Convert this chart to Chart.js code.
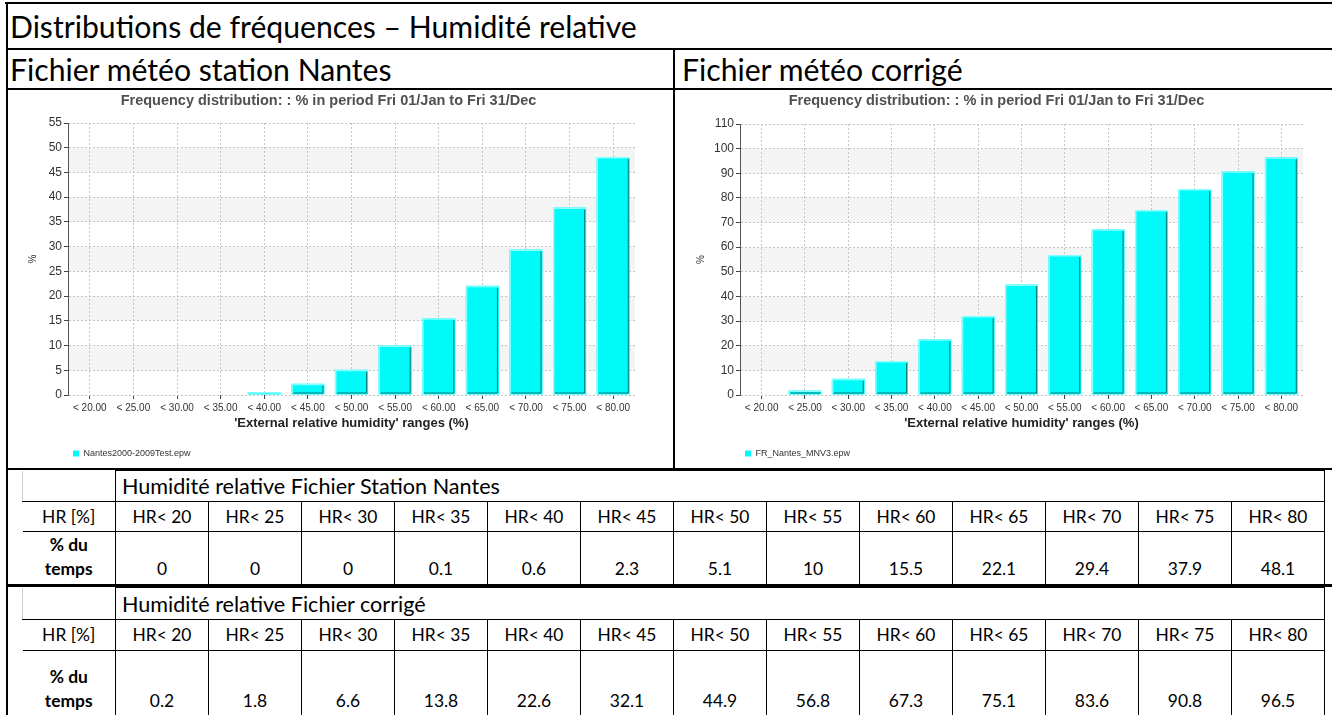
<!DOCTYPE html>
<html>
<head>
<meta charset="utf-8">
<script src="https://cdn.jsdelivr.net/npm/chart.js@4.4.1/dist/chart.umd.min.js"></script>
<style>
  html, body { margin: 0; padding: 0; background: #fff; }
  #page { position: relative; width: 1332px; height: 715px; overflow: hidden; font-family: Lato, 'Open Sans', sans-serif; color: #000; }
  .ln { position: absolute; background: #000; }
  .row { position: absolute; display: flex; align-items: center; white-space: nowrap; }
  .chart-box { position: absolute; }
  table.hr { position: absolute; border-collapse: collapse; table-layout: fixed; }
  table.hr td { border: 1px solid #000; padding: 0; text-align: center; white-space: nowrap; overflow: hidden; line-height: 24px; }
  table.hr td.head { text-align: left; padding-left: 6px; }
  table.hr td.first { border-left: none; }
  table.hr td.corner { border-left: 1px solid #d0d0d0; border-top: none; }
  table.hr td.bot { vertical-align: bottom; padding-bottom: 3px; }
  table.hr td b { font-weight: bold; }
</style>
</head>
<body>
<div id="page">
  <div class="ln" style="left:5px;top:2px;width:1327px;height:2px"></div>
  <div class="ln" style="left:6px;top:2px;width:2px;height:713px"></div>
  <div class="ln" style="left:6px;top:48px;width:1326px;height:2px"></div>
  <div class="ln" style="left:6px;top:88px;width:1326px;height:2px"></div>
  <div class="ln" style="left:673px;top:49px;width:2px;height:420px"></div>
  <div class="ln" style="left:6px;top:468px;width:1326px;height:2px"></div>
  <div class="ln" style="left:6px;top:584px;width:1326px;height:3px"></div>

  <div class="row" id="mainTitle" style="left:10px;top:4px;height:44px">
    <span>Distributions de fréquences – Humidité relative</span>
  </div>
  <div class="row sub" style="left:10px;top:50px;height:38px"><span>Fichier météo station Nantes</span></div>
  <div class="row sub" style="left:682px;top:50px;height:38px"><span>Fichier météo corrigé</span></div>

  <div class="chart-box" style="left:8px;top:90px;width:664px;height:378px"><canvas id="chartNantes"></canvas></div>
  <div class="chart-box" style="left:676px;top:90px;width:654px;height:378px"><canvas id="chartCorrige"></canvas></div>

  <table class="hr" id="tableNantes" style="left:22px;top:470px"></table>
  <table class="hr" id="tableCorrige" style="left:22px;top:587px"></table>
</div>

<script>
// ---- data ----
const rangeLabels = ['< 20.00', '< 25.00', '< 30.00', '< 35.00', '< 40.00', '< 45.00', '< 50.00',
  '< 55.00', '< 60.00', '< 65.00', '< 70.00', '< 75.00', '< 80.00'];
const hrLabels = ['HR< 20', 'HR< 25', 'HR< 30', 'HR< 35', 'HR< 40', 'HR< 45', 'HR< 50',
  'HR< 55', 'HR< 60', 'HR< 65', 'HR< 70', 'HR< 75', 'HR< 80'];
const nantesValues = [0, 0, 0, 0.1, 0.6, 2.3, 5.1, 10, 15.5, 22.1, 29.4, 37.9, 48.1];
const corrigeValues = [0.2, 1.8, 6.6, 13.8, 22.6, 32.1, 44.9, 56.8, 67.3, 75.1, 83.6, 90.8, 96.5];
const nantesYMax = 55, nantesYStep = 5;
const corrigeYMax = 110, corrigeYStep = 10;

const chartTitle = 'Frequency distribution: : % in period Fri 01/Jan to Fri 31/Dec';
const xTitle = "'External relative humidity' ranges (%)";
const FONT = "'Liberation Sans', Arial, sans-serif";

// light grey stripes behind every other y interval
const bandPlugin = {
  id: 'bands',
  beforeDraw(chart, args, opts) {
    const { ctx, chartArea: a, scales: { y } } = chart;
    ctx.save();
    ctx.fillStyle = '#f4f4f4';
    for (let v = opts.step; v < opts.max; v += 2 * opts.step) {
      const top = y.getPixelForValue(v + opts.step), bot = y.getPixelForValue(v);
      ctx.fillRect(a.left, top, a.right - a.left, bot - top);
    }
    ctx.restore();
  }
};

// bevelled bar edges (light top/left, dark right/bottom)
const bevelPlugin = {
  id: 'bevel',
  afterDatasetsDraw(chart) {
    const ctx = chart.ctx;
    chart.getDatasetMeta(0).data.forEach(bar => {
      const { x, y, base, width } = bar.getProps(['x', 'y', 'base', 'width'], true);
      if (base - y < 0.3) return;
      const l = x - width / 2, r = x + width / 2;
      ctx.save();
      ctx.lineWidth = 1.5;
      ctx.strokeStyle = '#86ffff';
      ctx.beginPath();
      ctx.moveTo(l + 0.75, base);
      ctx.lineTo(l + 0.75, Math.min(y, base - 1) + 0.75);
      ctx.lineTo(r, Math.min(y, base - 1) + 0.75);
      ctx.stroke();
      if (base - y > 3) {
        ctx.lineWidth = 1;
        ctx.strokeStyle = '#007a7a';
        ctx.beginPath();
        ctx.moveTo(r - 1.5, y + 2);
        ctx.lineTo(r - 1.5, base - 1.5);
        ctx.lineTo(l + 2, base - 1.5);
        ctx.stroke();
      }
      ctx.restore();
    });
  }
};

function makeChart(id, values, legendLabel, yMax, yStep, yWidth, padRight, titleGap) {
  return new Chart(document.getElementById(id), {
    type: 'bar',
    data: {
      labels: rangeLabels,
      datasets: [{
        label: legendLabel,
        data: values,
        backgroundColor: '#00fafa',
        borderWidth: 0,
        categoryPercentage: 1,
        barPercentage: 0.76
      }]
    },
    plugins: [bandPlugin, bevelPlugin],
    options: {
      responsive: true,
      maintainAspectRatio: false,
      animation: false,
      layout: { padding: { left: 14, right: padRight, top: 0, bottom: 0 } },
      plugins: {
        bands: { max: yMax, step: yStep },
        tooltip: { enabled: false },
        title: {
          display: true,
          text: chartTitle,
          color: '#505050',
          font: { family: FONT, size: 14.5, weight: 'bold' },
          padding: { top: 2, bottom: titleGap }
        },
        legend: {
          position: 'bottom',
          align: 'start',
          fullSize: false,
          labels: {
            boxWidth: 6, boxHeight: 6, padding: 5,
            color: '#333', font: { family: FONT, size: 9 }
          }
        }
      },
      scales: {
        x: {
          offset: true,
          grid: {
            offset: false, color: '#c4c4c4',
            tickColor: '#444', tickBorderDash: [], tickLength: 4
          },
          border: { display: false, dash: [2, 2] },
          ticks: { color: '#333', font: { family: FONT, size: 10 }, maxRotation: 0, autoSkip: false, padding: 3 },
          title: {
            display: true, text: xTitle, color: '#222',
            font: { family: FONT, size: 13, weight: 'bold' },
            padding: { top: 0, bottom: 13 }
          },
          afterFit(s) { s.height = 49; }
        },
        y: {
          min: 0, max: yMax,
          ticks: { stepSize: yStep, color: '#333', font: { family: FONT, size: 12 }, padding: 2 },
          grid: {
            color: '#c4c4c4',
            tickColor: '#444', tickBorderDash: [], tickLength: 4
          },
          border: { display: true, color: '#555', width: 1, dash: [2, 2] },
          title: {
            display: true, text: '%', color: '#333',
            font: { family: FONT, size: 10 }, padding: { top: 5, bottom: 0 }
          },
          afterFit(s) { s.width = yWidth; }
        }
      }
    }
  });
}

makeChart('chartNantes', nantesValues, 'Nantes2000-2009Test.epw', nantesYMax, nantesYStep, 46, 37, 13.6);
makeChart('chartCorrige', corrigeValues, 'FR_Nantes_MNV3.epw', corrigeYMax, corrigeYStep, 50, 27, 14.6);

// ---- tables ----
function buildTable(id, heading, values, rowHeights) {
  const t = document.getElementById(id);
  let html = '<colgroup><col style="width:93px">' + hrLabels.map(() => '<col style="width:93px">').join('') + '</colgroup>';
  html += `<tr style="height:${rowHeights[0]}px"><td class="first corner"></td><td class="head" colspan="${hrLabels.length}">${heading}</td></tr>`;
  html += `<tr style="height:${rowHeights[1]}px"><td class="first">HR [%]</td>` + hrLabels.map(l => `<td>${l}</td>`).join('') + '</tr>';
  html += `<tr style="height:${rowHeights[2]}px"><td class="first bot"><b>% du<br>temps</b></td>` +
    values.map(v => `<td class="bot">${v}</td>`).join('') + '</tr>';
  t.innerHTML = html;
}
buildTable('tableNantes', 'Humidité relative Fichier Station Nantes', nantesValues, [31, 30, 53]);
buildTable('tableCorrige', 'Humidité relative Fichier corrigé', corrigeValues, [32, 31, 66]);

// size the Lato text so that it takes the same room as the original Calibri
function sizeFor(text, weight, target) {
  const s = document.createElement('span');
  s.style.cssText = `position:absolute;visibility:hidden;white-space:nowrap;font-size:40px;font-weight:${weight}`;
  s.textContent = text;
  document.getElementById('page').appendChild(s);
  const w = s.getBoundingClientRect().width;
  s.remove();
  return 40 * target / w;
}
const titleSize = sizeFor('Distributions de fréquences – Humidité relative', 'normal', 627);
document.querySelectorAll('#mainTitle, .sub').forEach(el => el.style.fontSize = titleSize + 'px');
const cellSize = sizeFor('HR< 20', 'normal', 59);
const headSize = sizeFor('Humidité relative Fichier Station Nantes', 'normal', 378);
document.querySelectorAll('table.hr td').forEach(td => td.style.fontSize = cellSize + 'px');
document.querySelectorAll('table.hr td.head').forEach(td => td.style.fontSize = headSize + 'px');
</script>
</body>
</html>
